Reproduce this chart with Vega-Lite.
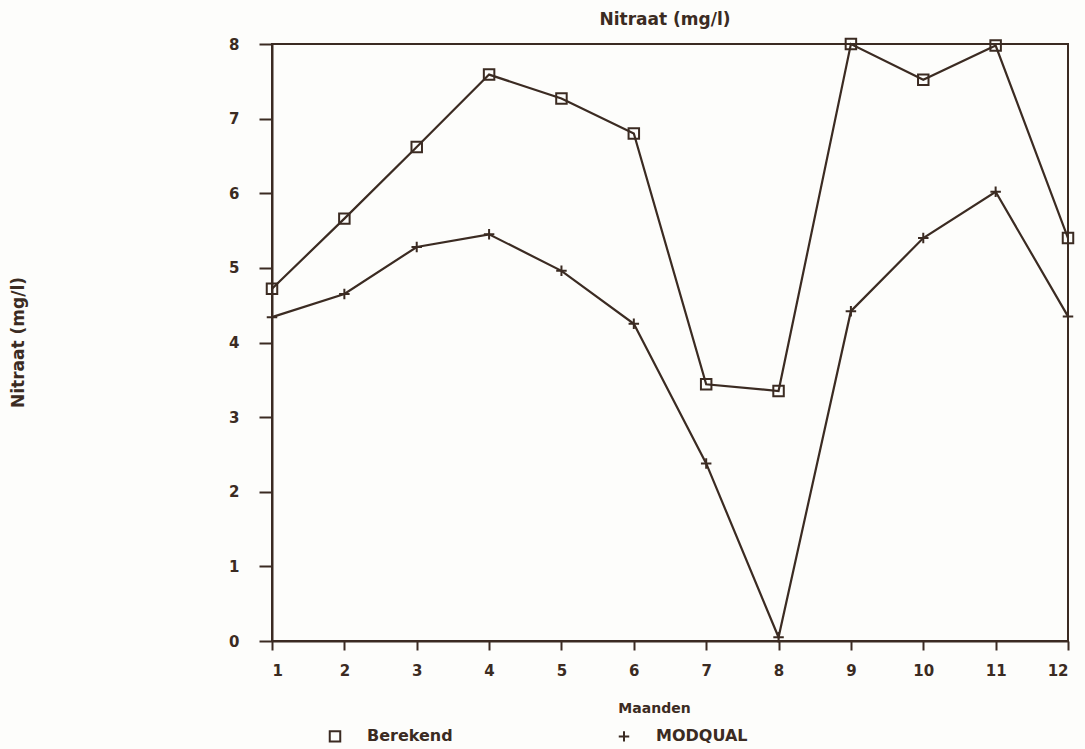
{
  "$schema": "https://vega.github.io/schema/vega-lite/v6.json",
  "autosize": {"type": "none"},
  "width": 796,
  "height": 597,
  "padding": {"left": 272, "top": 44, "right": 17, "bottom": 108},
  "background": "#fdfdfb",
  "title": {
    "text": "Nitraat (mg/l)",
    "font": "DejaVu Sans",
    "fontSize": 17,
    "fontWeight": "bold",
    "color": "#3b2b22",
    "anchor": "middle",
    "dx": -5,
    "offset": 6
  },
  "config": {
    "font": "DejaVu Sans",
    "view": {"stroke": "#3b2b22", "strokeWidth": 2},
    "axis": {
      "grid": false,
      "domainColor": "#3b2b22",
      "domainWidth": 2,
      "tickColor": "#3b2b22",
      "tickWidth": 2,
      "labelColor": "#3b2b22",
      "titleColor": "#3b2b22",
      "labelFont": "DejaVu Sans",
      "titleFont": "DejaVu Sans",
      "labelFontWeight": "bold",
      "titleFontWeight": "bold",
      "labelFontSize": 15,
      "titleFontSize": 14
    },
    "legend": {
      "labelColor": "#3b2b22",
      "labelFont": "DejaVu Sans",
      "labelFontWeight": "bold",
      "labelFontSize": 16
    }
  },
  "data": {
    "values": [
      {"maand": 1, "reeks": "Berekend", "nitraat": 4.72},
      {"maand": 2, "reeks": "Berekend", "nitraat": 5.66},
      {"maand": 3, "reeks": "Berekend", "nitraat": 6.62},
      {"maand": 4, "reeks": "Berekend", "nitraat": 7.59},
      {"maand": 5, "reeks": "Berekend", "nitraat": 7.27},
      {"maand": 6, "reeks": "Berekend", "nitraat": 6.8},
      {"maand": 7, "reeks": "Berekend", "nitraat": 3.44},
      {"maand": 8, "reeks": "Berekend", "nitraat": 3.35},
      {"maand": 9, "reeks": "Berekend", "nitraat": 8.0},
      {"maand": 10, "reeks": "Berekend", "nitraat": 7.52},
      {"maand": 11, "reeks": "Berekend", "nitraat": 7.98},
      {"maand": 12, "reeks": "Berekend", "nitraat": 5.4},
      {"maand": 1, "reeks": "MODQUAL", "nitraat": 4.34},
      {"maand": 2, "reeks": "MODQUAL", "nitraat": 4.65},
      {"maand": 3, "reeks": "MODQUAL", "nitraat": 5.28},
      {"maand": 4, "reeks": "MODQUAL", "nitraat": 5.45},
      {"maand": 5, "reeks": "MODQUAL", "nitraat": 4.96},
      {"maand": 6, "reeks": "MODQUAL", "nitraat": 4.25},
      {"maand": 7, "reeks": "MODQUAL", "nitraat": 2.38},
      {"maand": 8, "reeks": "MODQUAL", "nitraat": 0.05},
      {"maand": 9, "reeks": "MODQUAL", "nitraat": 4.42},
      {"maand": 10, "reeks": "MODQUAL", "nitraat": 5.4},
      {"maand": 11, "reeks": "MODQUAL", "nitraat": 6.02},
      {"maand": 12, "reeks": "MODQUAL", "nitraat": 4.35}
    ]
  },
  "encoding": {
    "x": {
      "field": "maand",
      "type": "quantitative",
      "scale": {"domain": [1, 12], "nice": false, "zero": false},
      "axis": {
        "title": "Maanden",
        "values": [1, 2, 3, 4, 5, 6, 7, 8, 9, 10, 11, 12],
        "tickSize": 9,
        "labelPadding": 13,
        "titleX": 382,
        "titleY": 67,
        "titleBaseline": "middle",
        "titleAlign": "center"
      }
    },
    "y": {
      "field": "nitraat",
      "type": "quantitative",
      "scale": {"domain": [0, 8], "nice": false},
      "axis": {
        "title": "Nitraat (mg/l)",
        "titleFontSize": 17,
        "values": [0, 1, 2, 3, 4, 5, 6, 7, 8],
        "tickSize": 13,
        "labelPadding": 20,
        "titleX": -254,
        "titleY": 298,
        "titleAngle": -90,
        "titleAlign": "center",
        "titleBaseline": "middle"
      }
    }
  },
  "layer": [
    {
      "mark": {"type": "line", "color": "#3b2b22", "strokeWidth": 2.2},
      "encoding": {"detail": {"field": "reeks"}}
    },
    {
      "mark": {"type": "point", "filled": false, "color": "#3b2b22", "strokeWidth": 2, "size": 110, "opacity": 1},
      "encoding": {
        "shape": {
          "field": "reeks",
          "type": "nominal",
          "scale": {"domain": ["Berekend", "MODQUAL"], "range": ["square", "M-1,0H1M0,-1V1"]},
          "legend": {
            "title": null,
            "orient": "none",
            "direction": "horizontal",
            "legendX": 55,
            "legendY": 684,
            "symbolStrokeColor": "#3b2b22",
            "symbolStrokeWidth": 2,
            "symbolSize": 110,
            "labelOffset": 24,
            "columnPadding": 161
          }
        }
      }
    }
  ]
}
